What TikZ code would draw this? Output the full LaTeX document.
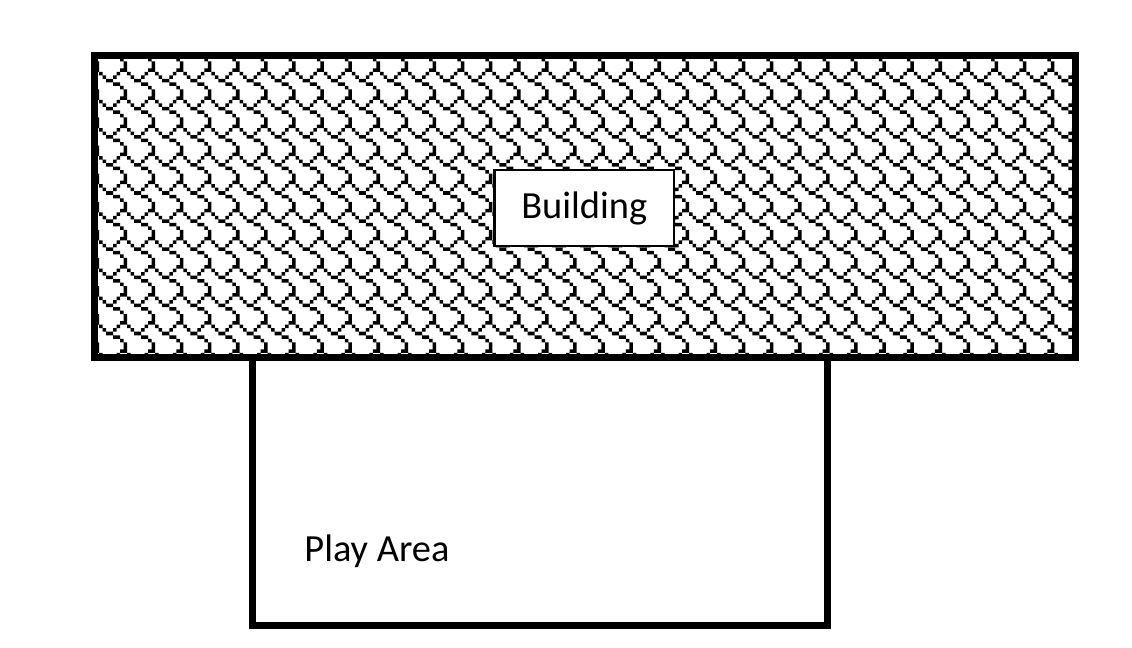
\documentclass[tikz,border=0pt]{standalone}
\usepackage{fontspec}
\setmainfont{Carlito}
\begin{document}
\begin{tikzpicture}[x=0.5pt,y=-0.5pt,
  thickbox/.style={draw=black,line width=3.5pt,outer sep=0pt,inner sep=0pt},
  labelbox/.style={draw=black,fill=white,line width=1.2pt,outer sep=0pt,inner sep=0pt,
    minimum width=89.75pt,minimum height=38pt,font=\fontsize{19.2}{23}\selectfont},
  labeltext/.style={inner sep=0pt,font=\fontsize{19.2}{23}\selectfont}]
\useasboundingbox[fill=white] (0,0) rectangle (1132,648);
% play area
\node[thickbox,minimum width=287.5pt,minimum height=134pt] (play) at (539.5,491.5) {};
% building
\node[thickbox,fill=white,minimum width=490.5pt,minimum height=151pt] (bld) at (585,206.5) {};
\begin{scope}
  \clip (bld.north west) rectangle (bld.south east);
  \fill[black]
    \foreach \tx [evaluate=\tx as \X using 70.9+28.1*\tx] in {0,...,36}{
      \foreach \ty [evaluate=\ty as \Y using 12.1+28.1*\ty] in {0,...,12}{
        \foreach \c/\r/\w/\h in {6/0/2/1,0/1/1/1,5/1/1/1,1/2/1/1,4/2/1/1,2/3/2/1,4/4/2/1,6/5/1/1,7/6/1/2}{
          ({\X+\c*3.5125},{\Y+\r*3.5125}) rectangle +({\w*3.5125},{\h*3.5125})
        }
      }
    };
\end{scope}
\draw[line width=3.5pt,line join=miter] (bld.north west) rectangle (bld.south east);
\draw[line width=3.5pt] (play.north west) -- (play.south west) -- (play.south east) -- (play.north east);
% labels
\node[labelbox] (blabel) at (584.25,208) {Building};
\node[labeltext,anchor=base west] (plabel) at (304,561) {Play Area};
\end{tikzpicture}
\end{document}
